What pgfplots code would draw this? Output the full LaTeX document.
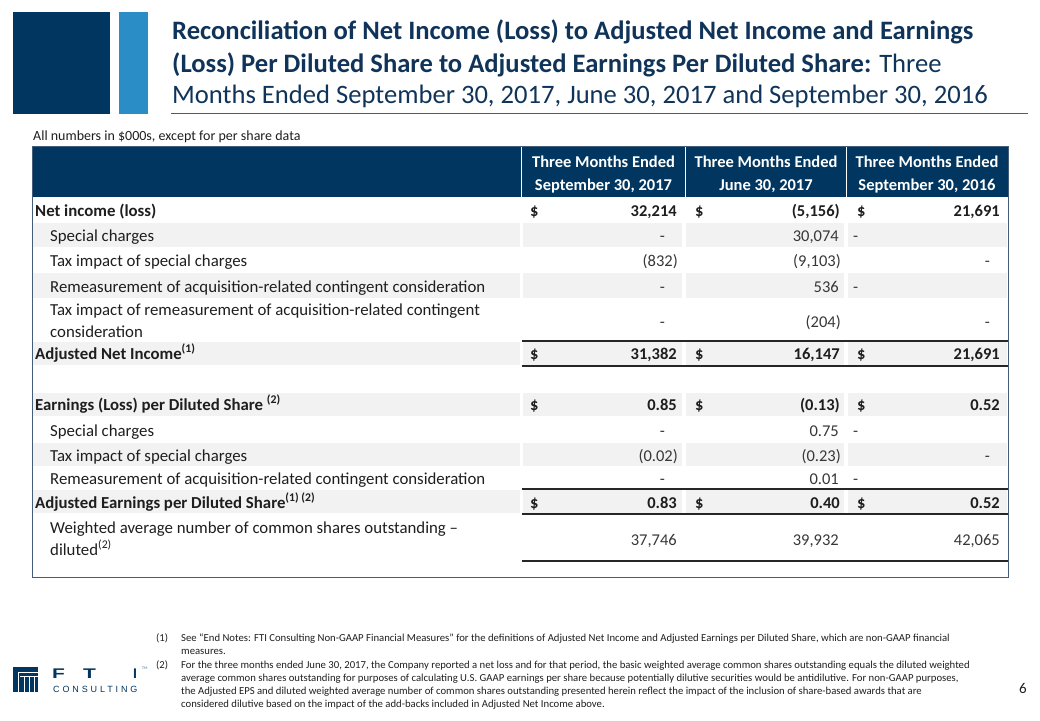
\documentclass[border=0pt]{standalone}
\usepackage{pgfplots}
\pgfplotsset{compat=1.18}
\usepackage{fontspec}
\setmainfont{Carlito}
\newfontfamily\logofont{Liberation Sans}
\definecolor{navy}{RGB}{0,54,96}
\definecolor{titleblue}{RGB}{16,52,89}
\definecolor{lightblue}{RGB}{42,141,197}
\definecolor{bandgray}{RGB}{242,242,242}
\definecolor{txt}{RGB}{30,30,30}
\definecolor{numtxt}{RGB}{55,55,55}
\definecolor{border}{RGB}{68,94,122}
\newcommand{\fs}[1]{\fontsize{#1pt}{#1pt}\selectfont}
\newcommand{\tfs}{\fs{16.5}}
\newcommand{\lfs}{\fs{16.8}}
\tikzset{
  lab/.style={anchor=base west, inner sep=0pt, font=\lfs, text=txt},
  labb/.style={lab, font=\lfs\bfseries},
  foot/.style={anchor=base west, inner sep=0pt, font=\fs{10.7}, text=txt},
}
\pgfplotsset{
  tnum/.style={draw=none, mark=none, point meta=explicit symbolic, nodes near coords,
    every node near coord/.append style={anchor=base east, inner sep=0pt, font=\tfs, text=numtxt}},
  tnumb/.style={tnum, every node near coord/.append style={font=\tfs\bfseries, text=txt}},
  tdollar/.style={tnum, every node near coord/.append style={anchor=base west, font=\tfs\bfseries, text=txt}},
  tdashl/.style={tnum, every node near coord/.append style={anchor=base west}},
}
\newcommand{\band}[2]{%
  \fill[bandgray] (axis cs:33,#1) rectangle (axis cs:520,#2);
  \fill[bandgray] (axis cs:523,#1) rectangle (axis cs:682,#2);
  \fill[bandgray] (axis cs:686,#1) rectangle (axis cs:844,#2);
  \fill[bandgray] (axis cs:848,#1) rectangle (axis cs:1007,#2);}
\newcommand{\rulel}[1]{\draw[black!85, line width=1.8pt] (axis cs:522,#1) -- (axis cs:1008,#1);}
\newcommand{\hdr}[3]{%
  \node[anchor=base, inner sep=0pt, text=white, font=\tfs\bfseries] at (axis cs:#1,167) {#2};
  \node[anchor=base, inner sep=0pt, text=white, font=\tfs\bfseries] at (axis cs:#1,190) {#3};}
\begin{document}
\begin{tikzpicture}
\begin{axis}[scale only axis, width=1040pt, height=720pt,
  xmin=0, xmax=1040, ymin=0, ymax=720, y dir=reverse,
  axis lines=none, clip=false]

% page frame (fixes the bounding box)
\path (axis cs:0,0) rectangle (axis cs:1040,720);

% decorative blocks
\fill[navy] (axis cs:13,12) rectangle (axis cs:110,114);
\fill[lightblue] (axis cs:119,12) rectangle (axis cs:148,114);

% title
\node[anchor=base west, inner sep=0pt, text=titleblue, font=\fs{26.6}\bfseries] at (axis cs:172,39) {Reconciliation of Net Income (Loss) to Adjusted Net Income and Earnings};
\node[anchor=base west, inner sep=0pt, text=titleblue, font=\fs{26.6}\bfseries] at (axis cs:172,72) {(Loss) Per Diluted Share to Adjusted Earnings Per Diluted Share:\mdseries{} Three};
\node[anchor=base west, inner sep=0pt, text=titleblue, font=\fs{26.6}] at (axis cs:172,103) {Months Ended September 30, 2017, June 30, 2017 and September 30, 2016};
\draw[border, line width=1.4pt] (axis cs:171,113.5) -- (axis cs:1028,113.5);

\node[anchor=base west, inner sep=0pt, font=\fs{14}, text=txt] at (axis cs:33,140) {All numbers in \$000s, except for per share data};

% header
\fill[navy] (axis cs:32,146) rectangle (axis cs:1009,197);
\draw[white, line width=1.3pt] (axis cs:521.5,147) -- (axis cs:521.5,197);
\draw[white, line width=1.3pt] (axis cs:685.5,147) -- (axis cs:685.5,197);
\draw[white, line width=1.3pt] (axis cs:846.5,147) -- (axis cs:846.5,197);
\hdr{603.5}{Three Months Ended}{September 30, 2017}
\hdr{766}{Three Months Ended}{June 30, 2017}
\hdr{927}{Three Months Ended}{September 30, 2016}

% gray bands
\band{223}{247}
\band{273}{298}
\band{342}{365}
\band{393}{416}
\band{443}{466}
\band{490}{513}

% rules
\rulel{341}
\rulel{366}
\rulel{489}
\rulel{514}
\rulel{561}

% border
\draw[border, line width=1pt] (axis cs:32.5,146) rectangle (axis cs:1008.5,577);

% labels
\node[labb] at (axis cs:35,216) {Net income (loss)};
\node[lab] at (axis cs:50,241) {Special charges};
\node[lab] at (axis cs:50,266) {Tax impact of special charges};
\node[lab] at (axis cs:50,292) {Remeasurement of acquisition-related contingent consideration};
\node[lab] at (axis cs:50,315) {Tax impact of remeasurement of acquisition-related contingent};
\node[lab] at (axis cs:50,337) {consideration};
\node[labb] at (axis cs:35,359) {Adjusted Net Income\textsuperscript{(1)}};
\node[labb] at (axis cs:35,410) {Earnings (Loss) per Diluted Share \textsuperscript{(2)}};
\node[lab] at (axis cs:50,436) {Special charges};
\node[lab] at (axis cs:50,461) {Tax impact of special charges};
\node[lab] at (axis cs:50,484) {Remeasurement of acquisition-related contingent consideration};
\node[labb] at (axis cs:35,508) {Adjusted Earnings per Diluted Share\textsuperscript{(1) (2)}};
\node[lab] at (axis cs:50,533) {Weighted average number of common shares outstanding –};
\node[lab] at (axis cs:50,555) {diluted\textsuperscript{(2)}};

% dollar signs
\addplot[tdollar] coordinates {(530,216)[\$] (695,216)[\$] (857,216)[\$] (530,359)[\$] (695,359)[\$] (857,359)[\$]
  (530,410)[\$] (695,410)[\$] (857,410)[\$] (530,508)[\$] (695,508)[\$] (857,508)[\$]};

% bold values (totals)
\addplot[tnumb] coordinates {(677,216)[32,214] (840,216)[(5,156)] (1000,216)[21,691]
  (677,359)[31,382] (840,359)[16,147] (1000,359)[21,691]
  (677,410)[0.85] (840,410)[(0.13)] (1000,410)[0.52]
  (677,508)[0.83] (840,508)[0.40] (1000,508)[0.52]};

% Three Months Ended September 30, 2017
\addplot[tnum] coordinates {(665,241)[-] (678,266)[(832)] (665,292)[-] (665,327)[-]
  (665,436)[-] (678,461)[(0.02)] (665,484)[-] (677,545)[37,746]};
% Three Months Ended June 30, 2017
\addplot[tnum] coordinates {(839,241)[30,074] (841,266)[(9,103)] (839,292)[536] (841,327)[(204)]
  (839,436)[0.75] (841,461)[(0.23)] (839,484)[0.01] (839,545)[39,932]};
% Three Months Ended September 30, 2016
\addplot[tdashl] coordinates {(853,241)[-] (853,292)[-] (853,436)[-] (853,484)[-]};
\addplot[tnum] coordinates {(990,266)[-] (990,327)[-] (990,461)[-] (1000,545)[42,065]};

% footnotes
\node[foot] at (axis cs:156,641) {(1)};
\node[foot] at (axis cs:181,641) {See “End Notes: FTI Consulting Non-GAAP Financial Measures” for the definitions of Adjusted Net Income and Adjusted Earnings per Diluted Share, which are non-GAAP financial};
\node[foot] at (axis cs:181,654) {measures.};
\node[foot] at (axis cs:156,668) {(2)};
\node[foot] at (axis cs:181,668) {For the three months ended June 30, 2017, the Company reported a net loss and for that period, the basic weighted average common shares outstanding equals the diluted weighted};
\node[foot] at (axis cs:181,681) {average common shares outstanding for purposes of calculating U.S. GAAP earnings per share because potentially dilutive securities would be antidilutive. For non-GAAP purposes,};
\node[foot] at (axis cs:181,694) {the Adjusted EPS and diluted weighted average number of common shares outstanding presented herein reflect the impact of the inclusion of share-based awards that are};
\node[foot] at (axis cs:181,707) {considered dilutive based on the impact of the add-backs included in Adjusted Net Income above.};

% page number
\node[anchor=base, inner sep=0pt, font=\fs{15}, text=txt] at (axis cs:1023,693) {6};

% logo
\fill[navy] (axis cs:13,667) rectangle (axis cs:38,692);
\draw[white, line width=0.9pt] (axis cs:18,672.5) -- (axis cs:38,672.5);
\draw[white, line width=0.9pt] (axis cs:18,672.5) -- (axis cs:18,692);
\draw[white, line width=0.9pt] (axis cs:24,676) -- (axis cs:24,692);
\draw[white, line width=0.9pt] (axis cs:29,676) -- (axis cs:29,692);
\draw[white, line width=0.9pt] (axis cs:34,676) -- (axis cs:34,692);
\draw[white, line width=0.9pt] (axis cs:20,676) -- (axis cs:38,676);
\node[anchor=base west, inner sep=0pt, text=navy, font=\logofont\bfseries\fs{14}] at (axis cs:52,678.5) {\scalebox{1.5}[1]{F}};
\node[anchor=base west, inner sep=0pt, text=navy, font=\logofont\bfseries\fs{14}] at (axis cs:83,678.5) {\scalebox{1.5}[1]{T}};
\node[anchor=base west, inner sep=0pt, text=navy, font=\logofont\bfseries\fs{14}] at (axis cs:133,678.5) {I};
\node[anchor=base west, inner sep=0pt, text=navy!70, font=\fs{4}] at (axis cs:142,669) {TM};
\node[anchor=base west, inner sep=0pt, text=navy, font=\logofont\fs{9}\addfontfeatures{LetterSpace=32}] at (axis cs:53,692) {CONSULTING};
\end{axis}
\end{tikzpicture}
\end{document}
